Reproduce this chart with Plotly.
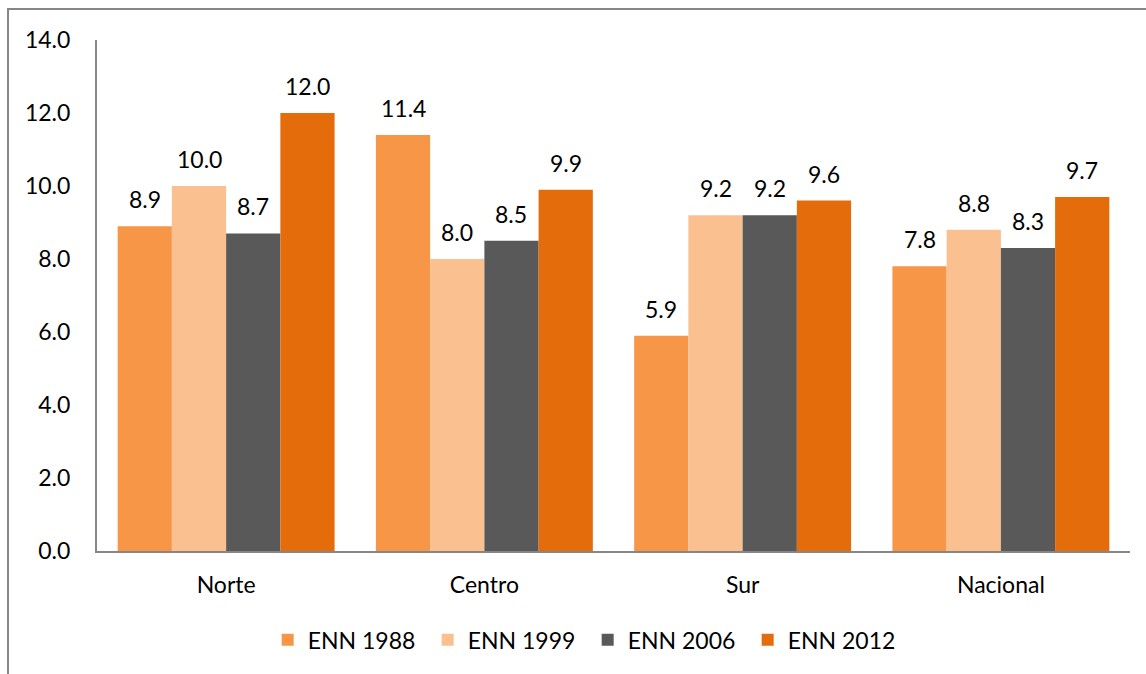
import plotly.graph_objects as go

regions = ["Norte", "Centro", "Sur", "Nacional"]
series_names = ["ENN 1988", "ENN 1999", "ENN 2006", "ENN 2012"]
enn_1988 = [8.9, 11.4, 5.9, 7.8]
enn_1999 = [10.0, 8.0, 9.2, 8.8]
enn_2006 = [8.7, 8.5, 9.2, 8.3]
enn_2012 = [12.0, 9.9, 9.6, 9.7]
y_ticks = [0, 2, 4, 6, 8, 10, 12, 14]

series_values = [enn_1988, enn_1999, enn_2006, enn_2012]
colors = ["#F79646", "#FAC090", "#595959", "#E46C0A"]

FONT = "Lato, 'Open Sans', sans-serif"
FS = 23
BARGAP = 0.16
W, H = 1146, 674
M = dict(l=97, r=16, t=40, b=123)

fig = go.Figure()
for name, vals, col in zip(series_names, series_values, colors):
    fig.add_trace(go.Bar(x=regions, y=vals, name=name, marker=dict(color=col, line=dict(width=0))))

# value labels above each bar
plot_w = W - M["l"] - M["r"]
band = plot_w / len(regions)
bar_w = band * (1 - BARGAP) / len(series_names)
for i, vals in enumerate(series_values):
    dx = (i - (len(series_names) - 1) / 2) * bar_w
    for reg, v in zip(regions, vals):
        fig.add_annotation(x=reg, y=v, text=f"{v:.1f}", showarrow=False,
                           xshift=dx, yshift=11, yanchor="bottom",
                           font=dict(family=FONT, size=FS, color="#000000"))

# outer chart frame
fig.add_shape(type="rect", xref="paper", yref="paper",
              x0=-89 / plot_w, x1=1.05, y0=-0.3, y1=1 + 31 / (H - M["t"] - M["b"]),
              line=dict(color="#868686", width=2), layer="below")

fig.update_layout(
    width=W, height=H, margin=M,
    paper_bgcolor="white", plot_bgcolor="white",
    barmode="group", bargap=BARGAP, bargroupgap=0,
    font=dict(family=FONT, size=FS, color="#000000"),
    showlegend=True,
    legend=dict(orientation="h", x=0.475, xanchor="center", y=-0.174, yanchor="middle",
                font=dict(family=FONT, size=FS), entrywidth=115, entrywidthmode="pixels"),
    xaxis=dict(showline=True, linecolor="#868686", linewidth=2, ticks="",
               tickfont=dict(family=FONT, size=FS), showgrid=False, ticklabelstandoff=12),
    yaxis=dict(range=[0, 14], tickvals=y_ticks, tickformat=".1f", showline=True,
               linecolor="#868686", linewidth=2, ticks="", showgrid=False, zeroline=False,
               tickfont=dict(family=FONT, size=FS), ticklabelstandoff=20),
)

fig.write_html("out.html")
